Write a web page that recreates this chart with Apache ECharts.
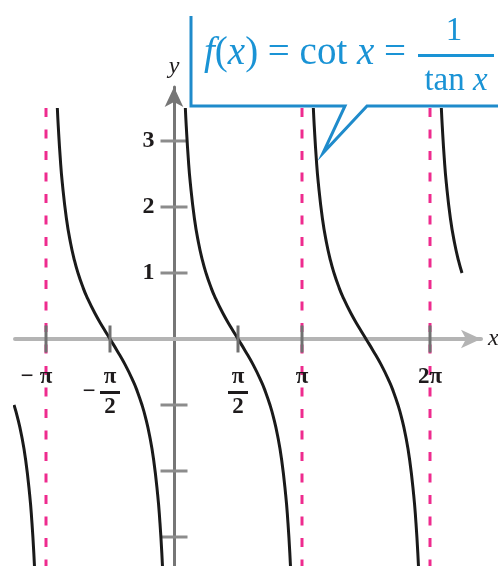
<!DOCTYPE html>
<html>
<head>
<meta charset="utf-8">
<script src="https://cdn.jsdelivr.net/npm/echarts@6/dist/echarts.min.js"></script>
<style>
  html, body { margin: 0; padding: 0; background: #ffffff; }
  #chart { width: 498px; height: 566px; }
</style>
</head>
<body>
<div id="chart"></div>
<script>
// Branches of f(x) = cot x, as [x (radians), y] points.
const branchA = [
  [-3.9270, -1.000], [-3.8416, -1.187], [-3.7416, -1.462], [-3.6416, -1.830],
  [-3.5416, -2.365], [-3.4916, -2.740], [-3.4416, -3.233], [-3.3916, -3.916]
];
const branchB = [
  [-2.8633, 3.500], [-2.8416, 3.233], [-2.7916, 2.740], [-2.7416, 2.365],
  [-2.6416, 1.830], [-2.5416, 1.462], [-2.4416, 1.187], [-2.3562, 1.000],
  [-2.2416, 0.794], [-2.1416, 0.642], [-1.9416, 0.389], [-1.7416, 0.173],
  [-1.5708, 0.000], [-1.4000, -0.173], [-1.2000, -0.389], [-1.0000, -0.642],
  [-0.9000, -0.794], [-0.7854, -1.000], [-0.7000, -1.187], [-0.6000, -1.462],
  [-0.5000, -1.830], [-0.4000, -2.365], [-0.3500, -2.740], [-0.3000, -3.233],
  [-0.2500, -3.916]
];
const branchC = [
  [0.2783, 3.500], [0.3000, 3.233], [0.3500, 2.740], [0.4000, 2.365],
  [0.5000, 1.830], [0.6000, 1.462], [0.7000, 1.187], [0.7854, 1.000],
  [0.9000, 0.794], [1.0000, 0.642], [1.2000, 0.389], [1.4000, 0.173],
  [1.5708, 0.000], [1.7416, -0.173], [1.9416, -0.389], [2.1416, -0.642],
  [2.2416, -0.794], [2.3562, -1.000], [2.4416, -1.187], [2.5416, -1.462],
  [2.6416, -1.830], [2.7416, -2.365], [2.7916, -2.740], [2.8416, -3.233],
  [2.8916, -3.916]
];
const branchD = [
  [3.4199, 3.500], [3.4416, 3.233], [3.4916, 2.740], [3.5416, 2.365],
  [3.6416, 1.830], [3.7416, 1.462], [3.8416, 1.187], [3.9270, 1.000],
  [4.0416, 0.794], [4.1416, 0.642], [4.3416, 0.389], [4.5416, 0.173],
  [4.7124, 0.000], [4.8832, -0.173], [5.0832, -0.389], [5.2832, -0.642],
  [5.3832, -0.794], [5.4978, -1.000], [5.5832, -1.187], [5.6832, -1.462],
  [5.7832, -1.830], [5.8832, -2.365], [5.9332, -2.740], [5.9832, -3.233],
  [6.0332, -3.916]
];
const branchE = [
  [6.5615, 3.500], [6.5832, 3.233], [6.6332, 2.740], [6.6832, 2.365],
  [6.7832, 1.830], [6.8832, 1.462], [6.9832, 1.187], [7.0686, 1.000]
];

// Vertical asymptotes x = -π, π, 2π and their vertical extent.
const asymptoteX = [-Math.PI, Math.PI, 2 * Math.PI];
const asymptoteSpan = [3.5, -3.9];

// Axis ticks and labels.
const xTickValues = [-Math.PI, -Math.PI / 2, Math.PI / 2, Math.PI, 2 * Math.PI];
const xTickLabels = ['−π', '−π/2', 'π/2', 'π', '2π'];
const yTickValues = [-3, -2, -1, 1, 2, 3];
const yLabelValues = [1, 2, 3];

const X_MIN = -3.9025, X_MAX = 7.5348;
const Y_MIN = -3.4394, Y_MAX = 3.818;

const SERIF = '"Liberation Serif", "Times New Roman", serif';
const INK = '#1e1b1c';
const BLUE = '#1a93d5';

// Turns "−π/2" into a stacked fraction with rich-text tokens.
function xLabelRich(t) {
  const neg = t.startsWith('−');
  const body = neg ? t.slice(1) : t;
  if (body.includes('/')) {
    const [num, den] = body.split('/');
    if (neg) {
      return '{sp| }{num|' + num + '}{sp| }\n{m|−}{bar| }{sp| }\n{sp| }{den|' + den + '}{sp| }';
    }
    return '{num|' + num + '}\n{bar| }\n{den|' + den + '}';
  }
  if (neg) return '{mm|−}{p|' + body + '}{sp2| }';
  return '{p|' + body + '}';
}

const glyph = { fontFamily: SERIF, fontSize: 23, fontWeight: 'bold', color: INK, align: 'center' };
const labelRich = {
  p:   Object.assign({}, glyph, { lineHeight: 22, width: 20 }),
  mm:  Object.assign({}, glyph, { lineHeight: 22, width: 18 }),
  sp2: { fontSize: 10, lineHeight: 22, width: 18 },
  num: Object.assign({}, glyph, { lineHeight: 22, width: 20 }),
  den: Object.assign({}, glyph, { lineHeight: 22, width: 20 }),
  m:   Object.assign({}, glyph, { lineHeight: 8, width: 22 }),
  bar: { fontSize: 2, lineHeight: 8, width: 20, height: 3, backgroundColor: INK },
  sp:  { fontSize: 10, lineHeight: 8, width: 22 }
};

const curveStyle = { color: '#1a1a1a', width: 3 };

function curveSeries(data) {
  return {
    type: 'line', data: data,
    symbol: 'none', smooth: 0.5, clip: true,
    lineStyle: curveStyle, z: 3, silent: true
  };
}

function asymptoteSeries(x) {
  return {
    type: 'line', data: [[x, asymptoteSpan[0]], [x, asymptoteSpan[1]]],
    symbol: 'none', clip: true,
    lineStyle: { color: '#ee2b8e', width: 3, type: [9, 12.5] }, z: 2, silent: true
  };
}

// Tick marks crossing the axes, placed through the chart's own scales.
const xTickSeries = {
  type: 'scatter', symbol: 'rect', symbolSize: [3, 27], silent: true, z: 4, clip: false,
  itemStyle: { color: '#707070', opacity: 1 },
  data: xTickValues.map(v => [v, 0])
};
const yTickSeries = {
  type: 'scatter', symbol: 'rect', symbolSize: [27, 3], silent: true, z: 1, clip: false,
  itemStyle: { color: '#8c8c8c', opacity: 1 },
  data: yTickValues.map(v => [0, v])
};

// Tick labels.
const xLabelSeries = {
  type: 'scatter', symbolSize: 1, silent: true, z: 5, clip: false,
  itemStyle: { color: 'rgba(0,0,0,0)', opacity: 1 },
  data: xTickValues.map((v, i) => ({ value: [v, 0], name: xTickLabels[i] })),
  label: {
    show: true, position: 'bottom', distance: 27,
    formatter: p => xLabelRich(p.name), rich: labelRich
  }
};
const yLabelSeries = {
  type: 'scatter', symbolSize: 1, silent: true, z: 5, clip: false,
  itemStyle: { color: 'rgba(0,0,0,0)', opacity: 1 },
  data: yLabelValues.map(v => ({ value: [0, v], name: String(v) })),
  label: {
    show: true, position: 'left', distance: 19,
    formatter: p => p.name, fontFamily: SERIF, fontSize: 24, fontWeight: 'bold', color: INK
  }
};

const chart = echarts.init(document.getElementById('chart'), null, { renderer: 'canvas' });

const option = {
  animation: false,
  backgroundColor: '#ffffff',
  grid: { left: 15, right: 17, top: 87, bottom: 0, containLabel: false, outerBoundsMode: 'none' },
  xAxis: {
    type: 'value', min: X_MIN, max: X_MAX,
    name: 'x', nameLocation: 'end', nameGap: 7,
    nameTextStyle: { fontFamily: SERIF, fontStyle: 'italic', fontSize: 24, color: INK },
    axisLine: {
      show: true, onZero: true,
      symbol: ['none', 'arrow'], symbolSize: [14, 20],
      lineStyle: { color: '#b4b4b4', width: 4 }
    },
    axisTick: { show: false },
    axisLabel: { show: false },
    splitLine: { show: false }
  },
  yAxis: {
    type: 'value', min: Y_MIN, max: Y_MAX,
    name: 'y', nameLocation: 'end', nameGap: 8,
    nameTextStyle: { fontFamily: SERIF, fontStyle: 'italic', fontSize: 24, color: INK },
    axisLine: {
      show: true, onZero: true,
      symbol: ['none', 'arrow'], symbolSize: [14, 20],
      lineStyle: { color: '#767676', width: 3 }
    },
    axisTick: { show: false },
    axisLabel: { show: false },
    splitLine: { show: false }
  },
  series: [
    curveSeries(branchA), curveSeries(branchB), curveSeries(branchC),
    curveSeries(branchD), curveSeries(branchE)
  ].concat(asymptoteX.map(asymptoteSeries), [xTickSeries, yTickSeries, xLabelSeries, yLabelSeries]),
  graphic: [
    {
      type: 'polyline', z: 100,
      shape: { points: [[191, 16], [191, 106], [345, 106], [323, 153], [367, 106], [505, 106]] },
      style: { stroke: '#1f8bcb', lineWidth: 3, fill: null, lineJoin: 'miter' }
    },
    {
      type: 'text', z: 101, x: 204, y: 54,
      style: {
        text: '{i|f}{r|(}{i|x}{r|) = cot }{i|x}{r| =}',
        verticalAlign: 'middle', align: 'left',
        rich: {
          i: { fontFamily: SERIF, fontStyle: 'italic', fontSize: 39, fill: BLUE },
          r: { fontFamily: SERIF, fontSize: 39, fill: BLUE }
        }
      }
    },
    {
      type: 'text', z: 101, x: 454, y: 31,
      style: { text: '1', align: 'center', verticalAlign: 'middle', fontFamily: SERIF, fontSize: 33, fill: BLUE }
    },
    {
      type: 'rect', z: 101,
      shape: { x: 418, y: 54, width: 76, height: 3 },
      style: { fill: BLUE }
    },
    {
      type: 'text', z: 101, x: 456, y: 81,
      style: {
        text: '{r|tan }{i|x}', align: 'center', verticalAlign: 'middle',
        rich: {
          i: { fontFamily: SERIF, fontStyle: 'italic', fontSize: 33, fill: BLUE },
          r: { fontFamily: SERIF, fontSize: 33, fill: BLUE }
        }
      }
    }
  ]
};

chart.setOption(option);
</script>
</body>
</html>
